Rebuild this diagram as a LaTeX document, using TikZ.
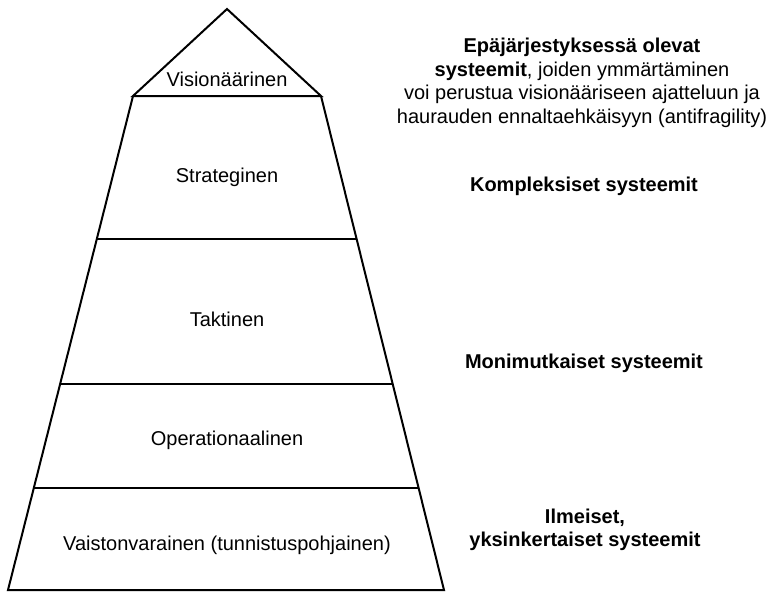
\documentclass[tikz,border=0pt]{standalone}
\usepackage{fontspec}
\setmainfont{Liberation Sans}
\begin{document}
\begin{tikzpicture}[x=1pt,y=-1pt,line width=2pt,
  layer/.style={font=\fontsize{20}{24}\selectfont},
  sys/.style={align=center,font=\fontsize{20}{23.5}\selectfont}]
\useasboundingbox (0,0) rectangle (773,592);
\coordinate (apex) at (227,9);
\coordinate (tl) at (133,96);
\coordinate (tr) at (321,96);
\coordinate (sl) at (96.8,239);
\coordinate (sr) at (356.6,239);
\coordinate (ol) at (60.1,384);
\coordinate (or) at (392.7,384);
\coordinate (vl) at (33.8,488);
\coordinate (vr) at (418.6,488);
\coordinate (bl) at (8,590);
\coordinate (br) at (444,590);
\draw (tl) -- (apex) -- (tr) -- cycle;
\draw (tl) -- (bl) -- (br) -- (tr);
\draw (sl) -- (sr);
\draw (ol) -- (or);
\draw (vl) -- (vr);
\node[layer] (vision) at (227,79) {Visionäärinen};
\node[layer] (strat) at (227,177) {Strateginen};
\node[layer] (takt) at (227,319) {Taktinen};
\node[layer] (oper) at (227,440) {Operationaalinen};
\node[layer] (vaisto) at (227,545) {Vaistonvarainen (tunnistuspohjainen)};
\node[sys] (kaos) at (582,83) {\textbf{Epäjärjestyksessä olevat}\\\textbf{systeemit}, joiden ymmärtäminen\\voi perustua visionääriseen ajatteluun ja\\haurauden ennaltaehkäisyyn (antifragility)};
\node[sys] (kompl) at (584,186) {\textbf{Kompleksiset systeemit}};
\node[sys] (monim) at (584,363) {\textbf{Monimutkaiset systeemit}};
\node[sys] (ilme) at (585,530) {\textbf{Ilmeiset,}\\\textbf{yksinkertaiset systeemit}};
\end{tikzpicture}
\end{document}
